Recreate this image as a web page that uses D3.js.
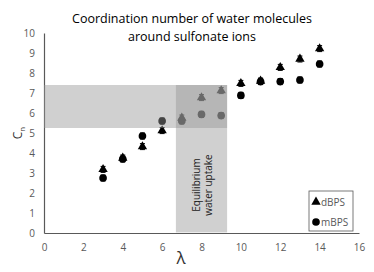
<!DOCTYPE html>
<meta charset="utf-8">
<style>
html, body { margin: 0; background: #fff; }
text { font-family: "Open Sans", "Noto Sans", sans-serif; }
.tick text { fill: #595959; font-size: 10px; }
</style>
<div id="chart"></div>
<script src="https://cdn.jsdelivr.net/npm/d3@7"></script>
<script>
// lambda values and coordination numbers
var lambda = [3, 4, 5, 6, 7, 8, 9, 10, 11, 12, 13, 14];
var dBPS = [3.18, 3.75, 4.32, 5.12, 5.75, 6.77, 7.12, 7.48, 7.6, 8.28, 8.7, 9.22];
var mBPS = [2.75, 3.7, 4.85, 5.6, 5.6, 5.93, 5.87, 6.88, 7.57, 7.57, 7.65, 8.45];
var errBar = 0.15;
var xTicks = [0, 2, 4, 6, 8, 10, 12, 14, 16];
var yTicks = [0, 1, 2, 3, 4, 5, 6, 7, 8, 9, 10];
// shaded equilibrium regions
var bandLambda = [6.7, 9.3];
var bandCn = [5.25, 7.4];

var width = 374, height = 272;
var margin = {top: 33, right: 15, bottom: 39, left: 44};

var svg = d3.select("#chart").append("svg")
    .attr("width", width)
    .attr("height", height);

var x = d3.scaleLinear().domain([0, 16]).range([margin.left, width - margin.right]);
var y = d3.scaleLinear().domain([0, 10]).range([height - margin.bottom, margin.top]);

// title
var title = svg.append("text")
    .attr("text-anchor", "middle")
    .attr("fill", "#000")
    .style("font-size", "12.5px");
title.append("tspan").attr("x", 192).attr("y", 23).text("Coordination number of water molecules");
title.append("tspan").attr("x", 192).attr("y", 41).text("around sulfonate ions");

// axes
var xAxis = svg.append("g")
    .attr("transform", "translate(0," + y(0) + ")")
    .call(d3.axisBottom(x).tickValues(xTicks).tickSize(0).tickPadding(9));
var yAxis = svg.append("g")
    .attr("transform", "translate(" + x(0) + ",0)")
    .call(d3.axisLeft(y).tickValues(yTicks).tickSize(0).tickPadding(9));
xAxis.select(".domain").attr("stroke", "#595959").attr("stroke-width", 1.2);
yAxis.select(".domain").attr("stroke", "#595959").attr("stroke-width", 1.2);
xAxis.selectAll("text").attr("dy", "0.9em");

// axis labels
svg.append("text")
    .attr("x", 181).attr("y", 264)
    .attr("text-anchor", "middle")
    .style("font-size", "17px")
    .attr("fill", "#333")
    .text("λ");
var cn = svg.append("text")
    .attr("transform", "translate(22," + y(5) + ") rotate(-90)")
    .attr("text-anchor", "middle")
    .attr("fill", "#333")
    .style("font-size", "12px");
cn.append("tspan").text("C");
cn.append("tspan").attr("dy", 3).style("font-size", "8px").text("n");

// data
var points = lambda.map(function(l, i) { return {l: l, d: dBPS[i], m: mBPS[i]}; });
var tri = d3.symbol().type(d3.symbolTriangle).size(38);
var circ = d3.symbol().type(d3.symbolCircle).size(46);

function errorBars(key) {
  var g = svg.append("g").attr("stroke", "#000").attr("stroke-width", 1);
  g.selectAll("path").data(points).enter().append("path")
    .attr("d", function(p) {
      var cx = x(p.l), t = y(p[key] + errBar), b = y(p[key] - errBar);
      return "M" + (cx - 2.5) + "," + t + "H" + (cx + 2.5) +
             "M" + cx + "," + t + "V" + b +
             "M" + (cx - 2.5) + "," + b + "H" + (cx + 2.5);
    });
}
errorBars("d");
svg.append("g").selectAll("path").data(points).enter().append("path")
    .attr("d", tri)
    .attr("transform", function(p) { return "translate(" + x(p.l) + "," + y(p.d) + ")"; })
    .attr("fill", "#000");
errorBars("m");
svg.append("g").selectAll("path").data(points).enter().append("path")
    .attr("d", circ)
    .attr("transform", function(p) { return "translate(" + x(p.l) + "," + y(p.m) + ")"; })
    .attr("fill", "#000");

// translucent bands drawn over the points
var bandFill = "rgba(150,150,150,0.45)";
svg.append("rect")
    .attr("x", x(0))
    .attr("y", y(bandCn[1]))
    .attr("width", x(bandLambda[1]) - x(0))
    .attr("height", y(bandCn[0]) - y(bandCn[1]))
    .attr("fill", bandFill);
svg.append("rect")
    .attr("x", x(bandLambda[0]))
    .attr("y", y(bandCn[1]))
    .attr("width", x(bandLambda[1]) - x(bandLambda[0]))
    .attr("height", y(0) - y(bandCn[1]) - 0.6)
    .attr("fill", bandFill);

var eq = svg.append("text")
    .attr("transform", "translate(" + x((bandLambda[0] + bandLambda[1]) / 2) + ",185) rotate(-90)")
    .attr("text-anchor", "middle")
    .attr("fill", "#222")
    .style("font-size", "10px");
eq.append("tspan").attr("x", 0).attr("dy", "-0.15em").text("Equilibrium");
eq.append("tspan").attr("x", 0).attr("dy", "1.15em").text("water uptake");

// legend
var lg = svg.append("g").attr("transform", "translate(309,191)");
lg.append("rect").attr("width", 44).attr("height", 40)
    .attr("fill", "#fff").attr("stroke", "#595959").attr("stroke-width", 0.8);
lg.append("path").attr("d", tri).attr("transform", "translate(7,11)");
lg.append("path").attr("d", circ).attr("transform", "translate(7,31)");
lg.append("text").attr("x", 12).attr("y", 14.5).attr("fill", "#595959")
    .style("font-size", "10px").text("dBPS");
lg.append("text").attr("x", 12).attr("y", 34.5).attr("fill", "#595959")
    .style("font-size", "10px").text("mBPS");
</script>
